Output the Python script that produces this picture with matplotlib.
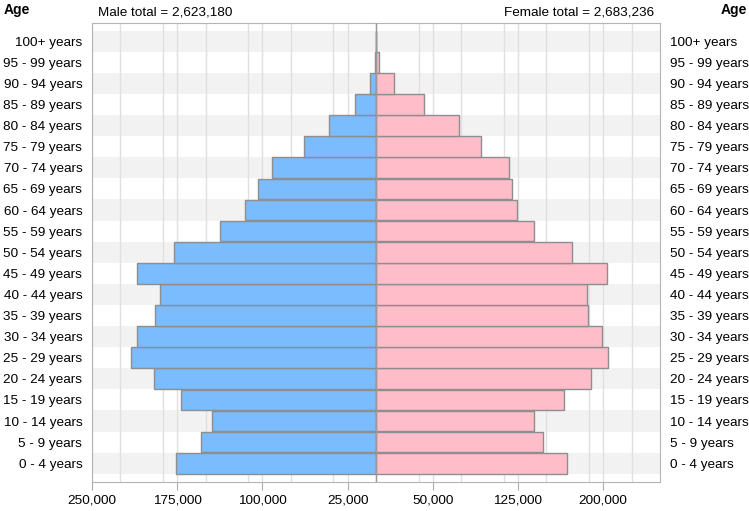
import numpy as np
import matplotlib
matplotlib.use("Agg")
from matplotlib import pyplot as plt
from matplotlib.ticker import FuncFormatter, MultipleLocator

plt.rcParams['font.family'] = ['Liberation Sans', 'DejaVu Sans']

# age groups, youngest first
ages = ["0 - 4 years", "5 - 9 years", "10 - 14 years", "15 - 19 years",
        "20 - 24 years", "25 - 29 years", "30 - 34 years", "35 - 39 years",
        "40 - 44 years", "45 - 49 years", "50 - 54 years", "55 - 59 years",
        "60 - 64 years", "65 - 69 years", "70 - 74 years", "75 - 79 years",
        "80 - 84 years", "85 - 89 years", "90 - 94 years", "95 - 99 years",
        "100+ years"]
male = [176200, 153900, 144700, 172000, 195100, 215300, 210200, 194900,
        190500, 210200, 177400, 137500, 115700, 104300, 91400, 63300,
        41000, 18200, 5300, 1100, 100]
female = [168300, 146700, 139000, 165200, 189600, 204500, 198600, 186200,
          185300, 203200, 172400, 139000, 123700, 119300, 117200, 92600,
          73200, 42500, 15800, 2900, 300]
male_total = "2,623,180"
female_total = "2,683,236"
x_ticks = np.arange(-250000, 250001, 75000)

fig = plt.figure(figsize=(7.49, 5.11), dpi=100)
ax = fig.add_axes([0.1228, 0.0568, 0.7584, 0.8976])

y = np.arange(len(ages))
# alternating row bands
for i in y:
    if i % 2 == 0:
        ax.axhspan(i - 0.5, i + 0.5, color="#f2f2f2", zorder=0, lw=0)

ax.barh(y, -np.array(male), height=0.98, color="#7abcfd", edgecolor="#8e8e8e",
        linewidth=1, zorder=3)
ax.barh(y, female, height=0.98, color="#ffbdca", edgecolor="#8e8e8e",
        linewidth=1, zorder=3)
ax.axvline(0, color="#9a9a9a", lw=1, zorder=4)

ax.set_xlim(-250000, 250000)
ax.set_ylim(-0.89, 20.85)
ax.set_xticks(x_ticks)
ax.xaxis.set_minor_locator(MultipleLocator(37500))
ax.xaxis.set_major_formatter(FuncFormatter(lambda v, p: f"{abs(int(v)):,}"))
ax.grid(axis="x", which="both", color="#e0e0e0", lw=1, zorder=1)
ax.tick_params(axis="x", which="major", length=6, color="#aaaaaa",
               labelsize=9.7, pad=3)
ax.tick_params(axis="x", which="minor", length=0)

ax.set_yticks(y)
ax.set_yticklabels(ages)
ax.tick_params(axis="y", length=0, labelsize=9.7, pad=7,
               labelleft=True, labelright=True)
for s in ax.spines.values():
    s.set_color("#b4b4b4")

fig.text(0.005, 0.995, "Age", fontsize=10, fontweight="bold", va="top", ha="left")
fig.text(0.997, 0.995, "Age", fontsize=10, fontweight="bold", va="top", ha="right")
fig.text(0.131, 0.975, "Male total = " + male_total, fontsize=9.7, va="center", ha="left")
fig.text(0.873, 0.975, "Female total = " + female_total, fontsize=9.7, va="center", ha="right")

fig.savefig("out.png", dpi=100)
